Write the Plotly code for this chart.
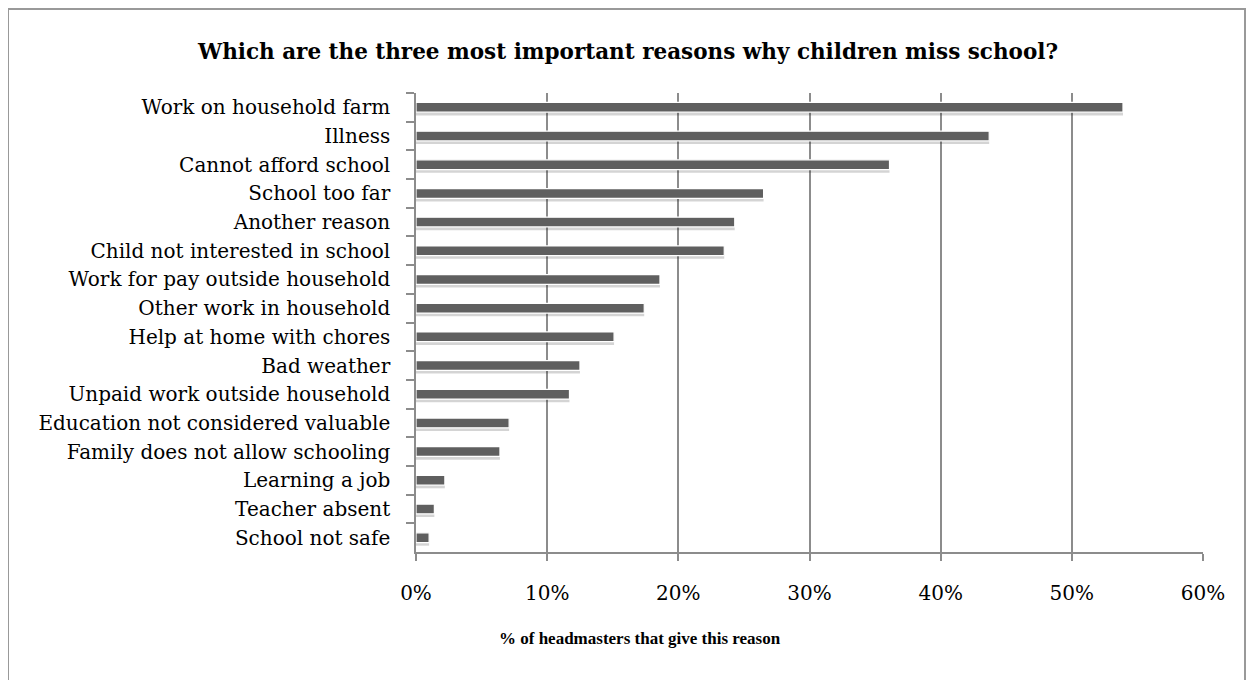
import plotly.graph_objects as go

reasons = [
    "Work on household farm", "Illness", "Cannot afford school", "School too far",
    "Another reason", "Child not interested in school", "Work for pay outside household",
    "Other work in household", "Help at home with chores", "Bad weather",
    "Unpaid work outside household", "Education not considered valuable",
    "Family does not allow schooling", "Learning a job", "Teacher absent", "School not safe",
]
shares = [0.539, 0.437, 0.361, 0.265, 0.243, 0.235, 0.186, 0.174, 0.151, 0.125,
          0.117, 0.071, 0.064, 0.022, 0.014, 0.010]
x_ticks = [0, 0.1, 0.2, 0.3, 0.4, 0.5, 0.6]
x_tick_labels = ["0%", "10%", "20%", "30%", "40%", "50%", "60%"]

title_text = "Which are the three most important reasons why children miss school?"
x_title = "% of headmasters that give this reason"

# page body has an 8px margin, so the figure is placed at (8, 8)
W, H = 1246, 672
ML, MR, MT, MB = 408, 51, 85, 128
PW, PH = W - ML - MR, H - MT - MB

BAR_W = 0.34
GRID = "#8c8c8c"
LABEL_FONT = "DejaVu Serif"

fig = go.Figure()
# soft shadow
fig.add_trace(go.Bar(
    x=shares, y=reasons, orientation="h", width=BAR_W, offset=-BAR_W / 2 + 0.11,
    marker=dict(color="rgba(0,0,0,0.17)", line=dict(width=0)), hoverinfo="skip",
    showlegend=False,
))
fig.add_trace(go.Bar(
    x=shares, y=reasons, orientation="h", width=BAR_W, offset=-BAR_W / 2,
    marker=dict(color="#5f5f5f", line=dict(color="white", width=1.2)),
    showlegend=False,
))

fig.update_layout(
    width=W, height=H,
    margin=dict(l=ML, r=MR, t=MT, b=MB),
    paper_bgcolor="white", plot_bgcolor="white",
    barmode="overlay",
    title=dict(text=f"<b>{title_text}</b>", x=620 / W, xanchor="center",
               y=1 - 43 / H, yanchor="middle",
               font=dict(family=LABEL_FONT, size=21.5, color="black")),
    font=dict(family=LABEL_FONT, size=20, color="black"),
    xaxis=dict(
        range=[0, 0.6], tickvals=x_ticks, ticktext=x_tick_labels,
        showgrid=True, gridcolor=GRID, gridwidth=1.5,
        showline=True, linecolor=GRID, linewidth=1.5,
        ticks="outside", ticklen=7, tickcolor=GRID, tickwidth=1.5,
        tickfont=dict(family=LABEL_FONT, size=20),
        zeroline=False, ticklabelstandoff=15,
    ),
    yaxis=dict(
        categoryorder="array", categoryarray=reasons, autorange="reversed",
        showline=True, linecolor=GRID, linewidth=1.5,
        ticks="outside", ticklen=8, tickcolor=GRID, tickwidth=1.5,
        tickson="boundaries", showgrid=False,
        tickfont=dict(family=LABEL_FONT, size=20),
        ticklabelstandoff=20,
    ),
    annotations=[dict(
        text=f"<b>{x_title}</b>", xref="paper", yref="paper",
        x=(632 - ML) / PW, y=(H - MB - 630) / PH, xanchor="center", yanchor="middle",
        showarrow=False, font=dict(family="Liberation Serif", size=17, color="black"),
    )],
    shapes=[dict(
        type="rect", xref="paper", yref="paper",
        x0=(0 - ML) / PW, x1=(1237 - ML) / PW,
        y0=(H - MB - 700) / PH, y1=(H - MB - 1) / PH,
        line=dict(color="#999999", width=2), fillcolor="rgba(0,0,0,0)", layer="below",
    )],
)

fig.write_html("out.html")
